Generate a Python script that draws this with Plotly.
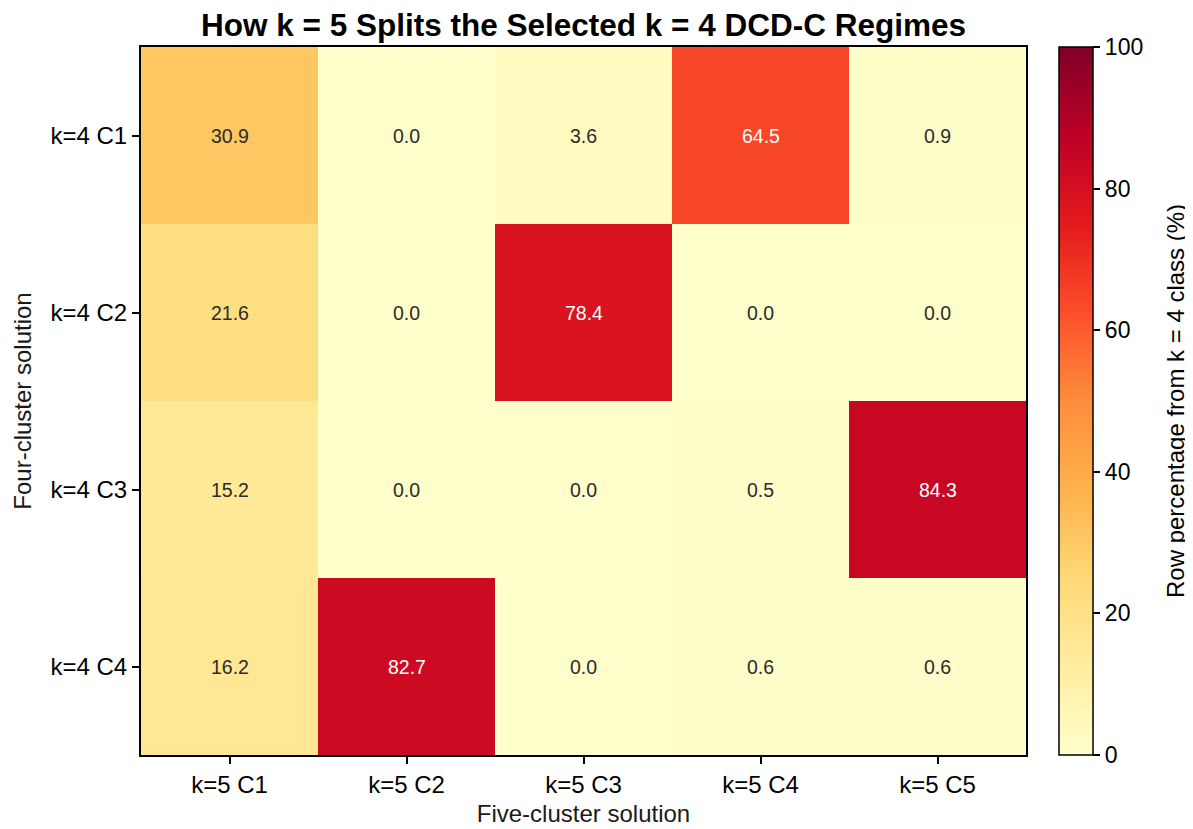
import plotly.graph_objects as go

cols = ["k=5 C1", "k=5 C2", "k=5 C3", "k=5 C4", "k=5 C5"]
rows = ["k=4 C1", "k=4 C2", "k=4 C3", "k=4 C4"]
vals = [
    [30.9, 0.0, 3.6, 64.5, 0.9],
    [21.6, 0.0, 78.4, 0.0, 0.0],
    [15.2, 0.0, 0.0, 0.5, 84.3],
    [16.2, 82.7, 0.0, 0.6, 0.6],
]
cbar_title = "Row percentage from k = 4 class (%)"

FONT = "Liberation Sans, Arial, sans-serif"

fig = go.Figure(go.Heatmap(
    z=vals, x=cols, y=rows, zmin=0, zmax=100,
    colorscale="YlOrRd",
    xgap=0, ygap=0,
    hoverinfo="skip",
    colorbar=dict(
        thickness=34, len=1.0, lenmode="fraction", y=0.5, yanchor="middle",
        x=1.037, xanchor="left", xpad=0, ypad=0,
        outlinewidth=1.5, outlinecolor="black",
        ticks="outside", ticklen=7, tickwidth=1.5, tickcolor="black",
        tickvals=[0, 20, 40, 60, 80, 100],
        tickfont=dict(family=FONT, size=23, color="black"),
    ),
))

ann = []
for i, r in enumerate(rows):
    for j, c in enumerate(cols):
        v = vals[i][j]
        ann.append(dict(x=c, y=r, text=f"{v:.1f}", showarrow=False,
                        font=dict(family=FONT, size=19.5,
                                  color="white" if v > 50 else "#2b2b2b")))
ann.append(dict(text=cbar_title, xref="paper", yref="paper", x=1.1684, y=0.5,
                xanchor="center", yanchor="middle", textangle=-90, showarrow=False,
                font=dict(family=FONT, size=24, color="black")))

fig.update_layout(
    width=1193, height=829,
    margin=dict(l=133, r=175, t=39, b=82),
    paper_bgcolor="white", plot_bgcolor="white",
    annotations=ann,
    title=dict(text="<b>How k = 5 Splits the Selected k = 4 DCD-C Regimes</b>",
               x=0.5, xref="paper", xanchor="center",
               y=0.979, yref="container", yanchor="middle",
               font=dict(family=FONT, size=31.5, color="black")),
    xaxis=dict(
        title=dict(text="Five-cluster solution", font=dict(family=FONT, size=24, color="#1a1a1a"), standoff=8),
        tickfont=dict(family=FONT, size=24, color="black"),
        ticks="outside", ticklen=7, tickwidth=1.5, tickcolor="black",
        showline=True, linecolor="black", linewidth=2, mirror=True,
        showgrid=False, zeroline=False,
    ),
    yaxis=dict(
        title=dict(text="Four-cluster solution", font=dict(family=FONT, size=24, color="#1a1a1a"), standoff=12),
        tickfont=dict(family=FONT, size=24, color="black"),
        ticks="outside", ticklen=7, tickwidth=1.5, tickcolor="black",
        showline=True, linecolor="black", linewidth=2, mirror=True,
        showgrid=False, zeroline=False, autorange="reversed",
    ),
)

fig.write_html("out.html")
